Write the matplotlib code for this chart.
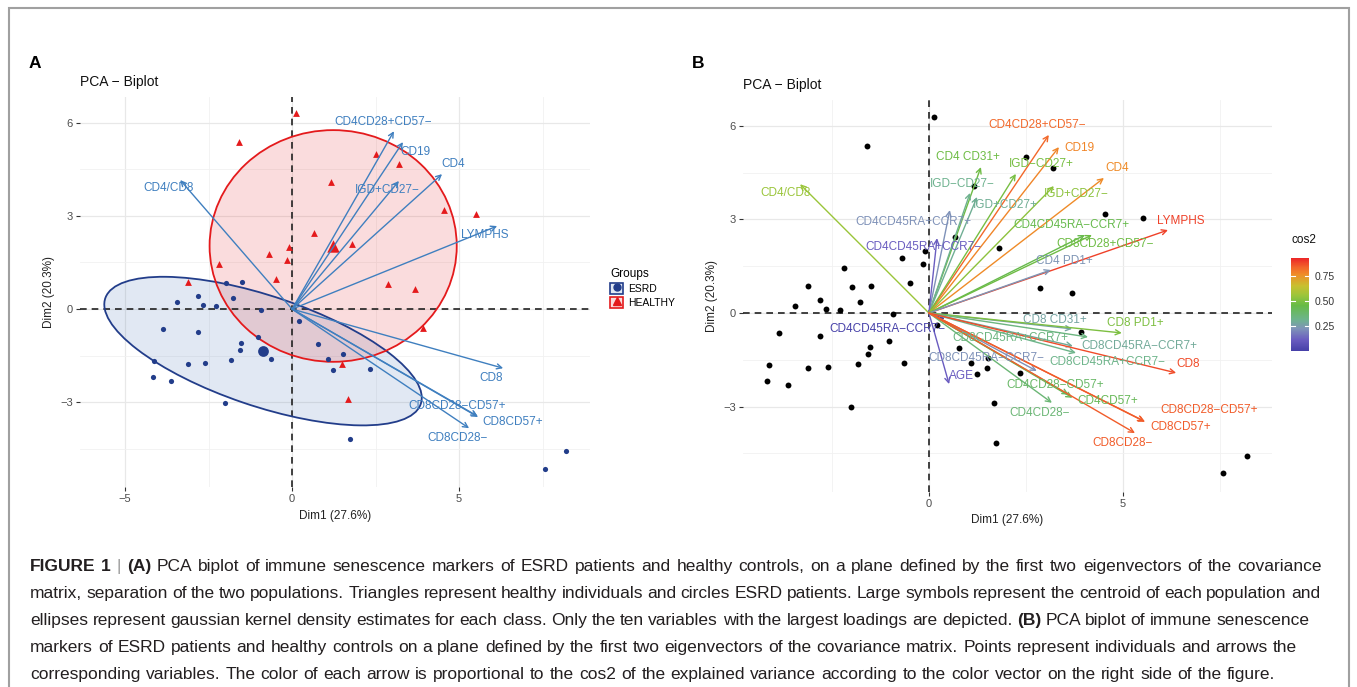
import matplotlib
matplotlib.use("Agg")
import matplotlib.pyplot as plt
import numpy as np
from matplotlib.patches import Ellipse, Rectangle, Patch
from matplotlib.lines import Line2D
from matplotlib.legend_handler import HandlerTuple
from matplotlib.colors import LinearSegmentedColormap, Normalize
from matplotlib.colorbar import ColorbarBase

plt.rcParams['font.family'] = ['Liberation Sans', 'DejaVu Sans']

W, H = 1357, 687

# individuals on Dim1 / Dim2
healthy_x = [0.12, -1.59, 1.17, 2.51, 3.20, 4.55, 5.51, 0.66, 1.80, -0.09, -0.69, -0.15,
             -2.19, -0.48, -3.11, 2.87, 3.68, 3.92, 1.50, 1.68]
healthy_y = [6.30, 5.37, 4.08, 5.00, 4.66, 3.18, 3.05, 2.44, 2.09, 2.00, 1.77, 1.58,
             1.45, 0.96, 0.87, 0.80, 0.64, -0.61, -1.77, -2.89]
esrd_x = [-1.98, -1.50, -2.81, -3.44, -2.66, -2.28, -1.77, -0.93, 0.21, -3.86, -2.81, -1.02,
          -1.53, -1.56, -1.83, -0.63, -4.13, -3.11, -2.60, -4.16, -3.62, -2.01, 0.78, 1.08,
          1.53, 1.23, 2.34, 1.74, 8.20, 7.57]
esrd_y = [0.84, 0.87, 0.42, 0.23, 0.13, 0.10, 0.35, -0.03, -0.39, -0.64, -0.74, -0.90,
          -1.09, -1.32, -1.64, -1.61, -1.67, -1.77, -1.74, -2.19, -2.32, -3.02, -1.13, -1.61,
          -1.45, -1.96, -1.93, -4.18, -4.57, -5.14]
groups = ['ESRD', 'HEALTHY']
centroid_x = [-0.87, 1.23]
centroid_y = [-1.35, 2.03]
# density ellipses: width, height, angle (data units)
ell_w = [10.04, 7.40]
ell_h = [3.52, 7.45]
ell_angle = [-20.1, 0.0]

# panel A: ten variables with the largest loadings
a_vars = ['CD4/CD8', 'CD4CD28+CD57−', 'CD19', 'IGD+CD27−', 'CD4', 'LYMPHS', 'CD8',
          'CD8CD28−CD57+', 'CD8CD57+', 'CD8CD28−']
a_x = [-3.35, 3.05, 3.32, 3.20, 4.49, 6.14, 6.32, 5.57, 5.55, 5.30]
a_y = [4.15, 5.72, 5.37, 4.12, 4.34, 2.67, -1.90, -3.47, -3.44, -3.83]
a_lab_x = [-3.71, 2.72, 3.68, 2.84, 4.82, 5.78, 5.96, 4.94, 6.62, 4.94]
a_lab_y = [3.89, 6.01, 5.05, 3.83, 4.66, 2.38, -2.22, -3.12, -3.63, -4.15]

# panel B: all variables coloured by cos2
b_vars = ['CD4/CD8', 'CD4 CD31+', 'IGD−CD27−', 'IGD+CD27+', 'CD4CD45RA+CCR7+',
          'CD4CD45RA+CCR7−', 'CD4CD28+CD57−', 'CD19', 'IGD−CD27+', 'CD4', 'IGD+CD27−',
          'LYMPHS', 'CD4CD45RA−CCR7+', 'CD8CD28+CD57−', 'CD4 PD1+', 'CD4CD45RA−CCR7−',
          'CD8CD45RA−CCR7−', 'AGE', 'CD8 CD31+', 'CD8 PD1+', 'CD8CD45RA+CCR7+',
          'CD8CD45RA−CCR7+', 'CD8CD45RA+CCR7−', 'CD8', 'CD4CD28−CD57+', 'CD4CD57+',
          'CD4CD28−', 'CD8CD28−CD57+', 'CD8CD57+', 'CD8CD28−']
b_x = [-3.32, 1.34, 1.06, 1.24, 0.54, 0.21, 3.09, 3.35, 2.24, 4.51, 3.22, 6.16, 4.02, 4.20,
       3.14, 0.41, 2.78, 0.52, 3.69, 4.97, 4.10, 3.71, 3.79, 6.37, 3.60, 3.70, 3.17, 5.57,
       5.55, 5.31]
b_y = [4.13, 4.68, 3.85, 3.72, 3.30, 2.40, 5.71, 5.32, 4.46, 4.33, 4.07, 2.66, 2.50, 2.50,
       1.38, -0.19, -1.86, -2.28, -0.51, -0.64, -0.77, -1.06, -1.28, -1.92, -2.62, -2.72,
       -2.88, -3.49, -3.47, -3.85]
b_cos2 = [0.555, 0.47, 0.31, 0.30, 0.22, 0.115, 0.83, 0.78, 0.49, 0.77, 0.53, 0.89, 0.44, 0.47,
          0.23, 0.004, 0.22, 0.11, 0.27, 0.50, 0.34, 0.29, 0.32, 0.875, 0.39, 0.42, 0.36, 0.85,
          0.85, 0.85]
b_lab_x = [-3.69, 1.00, 0.85, 1.96, -0.41, -0.15, 2.78, 3.89, 2.89, 4.84, 3.81, 6.49, 3.66,
           4.54, 3.48, -1.08, 1.49, 0.85, 3.25, 5.31, 2.09, 5.41, 4.61, 6.68, 3.25, 4.61, 2.86,
           7.22, 6.49, 5.00]
b_lab_y = [3.85, 5.00, 4.13, 3.46, 2.92, 2.12, 6.03, 5.29, 4.78, 4.65, 3.81, 2.95, 2.82, 2.21,
           1.67, -0.51, -1.44, -2.02, -0.22, -0.32, -0.80, -1.06, -1.57, -1.63, -2.31, -2.82,
           -3.21, -3.11, -3.65, -4.17]

caption = [
    [("FIGURE 1", 'bold', '#231f20'), ("|", 'normal', '#9a9a9a'), ("(A)", 'bold', '#231f20'),
     ("PCA biplot of immune senescence markers of ESRD patients and healthy controls, on a plane "
      "defined by the first two eigenvectors of the covariance", 'normal', '#231f20')],
    [("matrix, separation of the two populations. Triangles represent healthy individuals and "
      "circles ESRD patients. Large symbols represent the centroid of each population and",
      'normal', '#231f20')],
    [("ellipses represent gaussian kernel density estimates for each class. Only the ten variables "
      "with the largest loadings are depicted.", 'normal', '#231f20'), ("(B)", 'bold', '#231f20'),
     ("PCA biplot of immune senescence", 'normal', '#231f20')],
    [("markers of ESRD patients and healthy controls on a plane defined by the first two "
      "eigenvectors of the covariance matrix. Points represent individuals and arrows the",
      'normal', '#231f20')],
    [("corresponding variables. The color of each arrow is proportional to the cos2 of the "
      "explained variance according to the color vector on the right side of the figure.",
      'normal', '#231f20')],
]
# where each caption line starts / ends and its baseline (pixels)
cap_x0 = 30
cap_x1 = [1322, 1320, 1309, 1297, 1275]
cap_y = [571, 598, 625, 652, 679]

red = '#E41A1C'
navy = '#223D8A'
steel = '#3F7FBF'
cmap = LinearSegmentedColormap.from_list('cos2', [
    (0.00, '#4640a8'), (0.12, '#6a5cc0'), (0.24, '#7f93b8'), (0.34, '#6db48c'),
    (0.49, '#66bb46'), (0.60, '#9cc53a'), (0.70, '#c8c030'), (0.83, '#f08a28'),
    (0.90, '#f2652a'), (1.00, '#ec2528')])
norm = Normalize(vmin=0.0, vmax=0.93)


def px_axes(fig, left, top, right, bottom):
    return fig.add_axes([left / W, 1 - bottom / H, (right - left) / W, (bottom - top) / H])


def style_axes(ax, xmaj, xmin, ymaj, ymin):
    ax.set_xticks(xmaj)
    ax.set_xticks(xmin, minor=True)
    ax.set_yticks(ymaj)
    ax.set_yticks(ymin, minor=True)
    ax.set_xticklabels([str(v).replace('-', '−') for v in xmaj])
    ax.set_yticklabels([str(v).replace('-', '−') for v in ymaj])
    ax.grid(which='major', color='#E8E8E8', lw=0.9, zorder=0)
    ax.grid(which='minor', color='#F1F1F1', lw=0.6, zorder=0)
    ax.tick_params(which='major', length=3, width=0.8, color='#333333', labelsize=8,
                   labelcolor='#4D4D4D', pad=2)
    ax.tick_params(which='minor', length=0)
    for s in ax.spines.values():
        s.set_visible(False)
    ax.set_axisbelow(True)
    ax.axhline(0, color='#222222', ls=(0, (4, 3)), lw=1.2, zorder=2)
    ax.axvline(0, color='#222222', ls=(0, (4, 3)), lw=1.2, zorder=2)
    ax.set_xlabel('Dim1 (27.6%)', fontsize=8.5, color='#222222', labelpad=4)
    ax.set_ylabel('Dim2 (20.3%)', fontsize=8.5, color='#222222', labelpad=4)
    ax.set_title('PCA − Biplot', fontsize=10, loc='left', color='#111111', pad=8)


def arrow(ax, x, y, color):
    ax.annotate('', xy=(x, y), xytext=(0, 0), zorder=4,
                arrowprops=dict(arrowstyle='->', color=color, lw=1.0, shrinkA=0, shrinkB=0,
                                mutation_scale=9))


fig = plt.figure(figsize=(W / 100, H / 100), dpi=100)

# ---------- panel A ----------
axA = px_axes(fig, 80, 97, 590, 487)
axA.set_xlim(-6.35, 8.92)
axA.set_ylim(-5.72, 6.82)
style_axes(axA, [-5, 0, 5], [-2.5, 2.5, 7.5], [-3, 0, 3, 6], [-4.5, -1.5, 1.5, 4.5])

fills = ['#3B6BB0', red]
for i, col in enumerate([navy, red]):
    axA.add_patch(Ellipse((centroid_x[i], centroid_y[i]), ell_w[i], ell_h[i], angle=ell_angle[i],
                          facecolor=fills[i], alpha=0.15, edgecolor='none', zorder=1))
    axA.add_patch(Ellipse((centroid_x[i], centroid_y[i]), ell_w[i], ell_h[i], angle=ell_angle[i],
                          facecolor='none', edgecolor=col, lw=1.3, zorder=3))

axA.scatter(esrd_x, esrd_y, s=14, color=navy, marker='o', lw=0, zorder=3)
axA.scatter(healthy_x, healthy_y, s=24, color=red, marker='^', lw=0, zorder=3)
axA.scatter(centroid_x[:1], centroid_y[:1], s=60, color=navy, marker='o', lw=0, zorder=3)
axA.scatter(centroid_x[1:], centroid_y[1:], s=80, color=red, marker='^', lw=0, zorder=3)

for name, x, y, lx, ly in zip(a_vars, a_x, a_y, a_lab_x, a_lab_y):
    arrow(axA, x, y, steel)
    axA.text(lx, ly, name, color=steel, fontsize=8.5, ha='center', va='center', zorder=5)

handles = [(Patch(facecolor=fills[0], alpha=0.15, edgecolor='none'),
            Patch(facecolor='none', edgecolor=navy, lw=1.2),
            Line2D([], [], marker='o', color=navy, ls='', markersize=5)),
           (Patch(facecolor=red, alpha=0.15, edgecolor='none'),
            Patch(facecolor='none', edgecolor=red, lw=1.2),
            Line2D([], [], marker='^', color=red, ls='', markersize=6))]
leg = fig.legend(handles, groups, handler_map={tuple: HandlerTuple(ndivide=1, pad=0)},
                 title='Groups', loc='upper left', bbox_to_anchor=(602 / W, 1 - 260 / H),
                 frameon=False, fontsize=7.5, title_fontsize=8.5, handlelength=1.25,
                 handleheight=1.25, handletextpad=0.5, labelspacing=0.25, borderpad=0.3)
leg._legend_box.align = 'left'

# ---------- panel B ----------
axB = px_axes(fig, 743, 100, 1272, 492)
axB.set_xlim(-4.79, 8.84)
axB.set_ylim(-5.74, 6.83)
style_axes(axB, [0, 5], [-2.5, 2.5, 7.5], [-3, 0, 3, 6], [-4.5, -1.5, 1.5, 4.5])

axB.scatter(healthy_x + esrd_x, healthy_y + esrd_y, s=18, color='black', lw=0, zorder=3)

for name, x, y, c2, lx, ly in zip(b_vars, b_x, b_y, b_cos2, b_lab_x, b_lab_y):
    col = cmap(norm(c2))
    arrow(axB, x, y, col)
    axB.text(lx, ly, name, color=col, fontsize=8.5, ha='center', va='center', zorder=5)

cax = px_axes(fig, 1291, 258, 1309, 351)
cb = ColorbarBase(cax, cmap=cmap, norm=norm, orientation='vertical')
cb.outline.set_visible(False)
cb.set_ticks([0.25, 0.5, 0.75])
cb.set_ticklabels(['0.25', '0.50', '0.75'])
cax.tick_params(length=0, labelsize=7.5, labelcolor='#333333', pad=4)
for v in [0.25, 0.5, 0.75]:
    cax.plot([0, 0.2], [v, v], color='white', lw=0.8)
    cax.plot([0.8, 1], [v, v], color='white', lw=0.8)
cax.set_xlim(0, 1)
fig.text(1291 / W, 1 - 240 / H, 'cos2', fontsize=8.5, ha='left', va='center', color='#111111')

# panel letters
fig.text(29 / W, 1 - 64 / H, 'A', fontsize=12.5, fontweight='bold', ha='left', va='center')
fig.text(692 / W, 1 - 64 / H, 'B', fontsize=12.5, fontweight='bold', ha='left', va='center')

# frame
fig.patches.append(Rectangle((9 / W, -0.02), 1340 / W, 1 - 8 / H + 0.02, transform=fig.transFigure,
                             fill=False, edgecolor='#A0A0A0', lw=1.5))

# ---------- caption ----------
renderer = fig.canvas.get_renderer()


def text_width(s, size, weight):
    t = fig.text(0, 0, s, fontsize=size, fontweight=weight)
    w = t.get_window_extent(renderer=renderer).width
    t.remove()
    return w


def layout_line(line, size):
    # natural x offset of every word, measured on whole prefixes so spacing stays even
    sp = text_width('n n', size, 'normal') - text_width('nn', size, 'normal')
    words = []
    x = 0.0
    for s, wt, c in line:
        toks = s.split()
        for k, tok in enumerate(toks):
            off = 0.0
            if k:
                off = text_width(' '.join(toks[:k]) + ' n', size, wt) - text_width('n', size, wt)
            words.append([tok, wt, c, x + off])
        x += text_width(s, size, wt) + sp
    last = words[-1]
    return words, last[3] + text_width(last[0], size, last[1])


size = 12.0
natural = sum(layout_line(line, size)[1] for line in caption)
size = size * sum(x1 - cap_x0 for x1 in cap_x1) / natural
for line, x1, yb in zip(caption, cap_x1, cap_y):
    words, total = layout_line(line, size)
    extra = (x1 - cap_x0 - total) / max(len(words) - 1, 1)
    for i, (tok, wt, c, off) in enumerate(words):
        fig.text((cap_x0 + off + i * extra) / W, 1 - yb / H, tok, fontsize=size, fontweight=wt,
                 color=c, ha='left', va='baseline')

fig.savefig('out.png', dpi=100)
